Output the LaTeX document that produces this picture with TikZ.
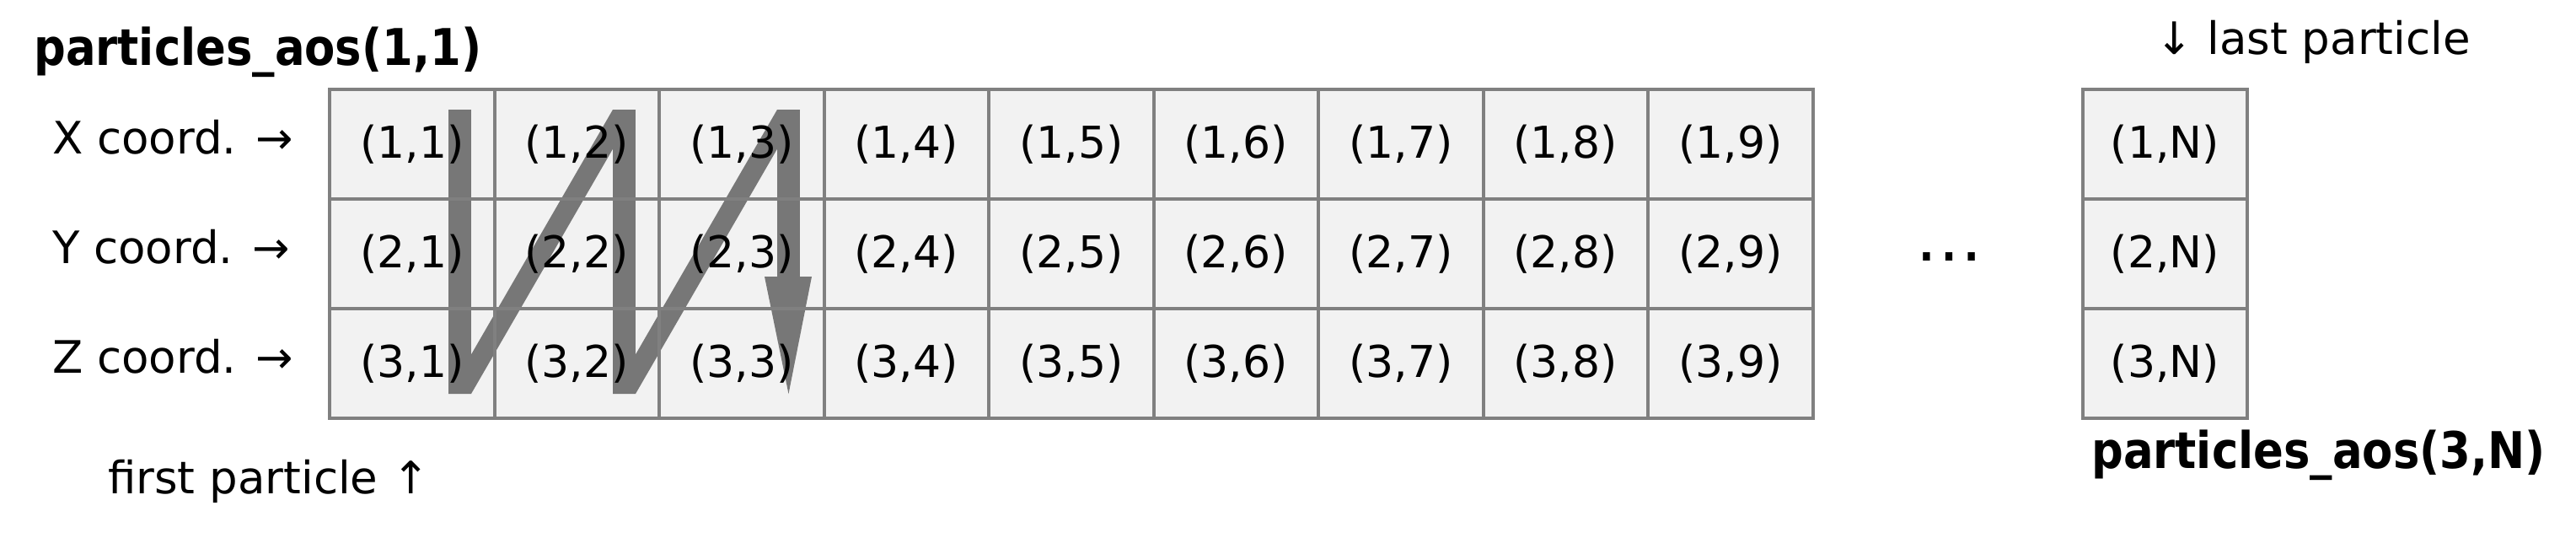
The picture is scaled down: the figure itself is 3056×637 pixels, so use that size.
\documentclass[tikz,border=0pt]{standalone}
\usepackage{fontspec}
\setmainfont{DejaVu Sans}
\newfontfamily\titlefont{DejaVu Sans}[FakeStretch=0.88]
\definecolor{cellfill}{HTML}{F2F2F2}
\definecolor{gridgray}{HTML}{808080}
\definecolor{flowgray}{HTML}{777777}
\begin{document}
\begin{tikzpicture}[x=1pt,y=-1pt,
  cell/.style={draw=gridgray, line width=4pt, minimum width=195.5pt, minimum height=130pt,
    inner sep=0pt, anchor=north west, font=\fontsize{52}{60}\selectfont},
  lbl/.style={anchor=base west, inner sep=0pt, font=\fontsize{53}{60}\selectfont},
  ttl/.style={anchor=base west, inner sep=0pt, font=\titlefont\bfseries\fontsize{60}{70}\selectfont},
  flow/.style={fill=flowgray}]
\useasboundingbox (0,0) rectangle (3056,637);
% cell backgrounds
\fill[cellfill] (389,104) rectangle (2148.5,494);
\fill[cellfill] (2468.5,104) rectangle (2663.5,494);
% storage order path
\fill[flow] (532,130) rectangle (559,467);
\fill[flow] (532,467) -- (559,467) -- (754,130) -- (727,130) -- cycle;
\fill[flow] (727,130) rectangle (754,467);
\fill[flow] (727,467) -- (754,467) -- (949,130) -- (922,130) -- cycle;
\fill[flow] (922,130) rectangle (949,328);
\fill[flow] (907,328) -- (963,328) -- (935.5,467) -- cycle;
% cells
\foreach \r in {1,2,3}{
  \foreach \c in {1,...,9}{
    \node[cell] (c\r\c) at ({389+(\c-1)*195.5},{104+(\r-1)*130}) {(\r,\c)};
  }
  \node[cell] (cN\r) at (2468.5,{104+(\r-1)*130}) {(\r,N)};
}
% labels
\node[lbl] (lx) at (62,182) {X coord. →};
\node[lbl] (ly) at (62,312) {Y coord. →};
\node[lbl] (lz) at (62,442) {Z coord. →};
\node[lbl] (first) at (128,585) {first particle ↑};
\node[lbl] (last) at (2557,64) {↓ last particle};
\node[ttl] (t1) at (40,77) {particles\_aos(1,1)};
\node[ttl] (t2) at (2481,555) {particles\_aos(3,N)};
\node[anchor=base, inner sep=0pt, font=\fontsize{80}{80}\selectfont] (dots) at (2312,309) {…};
\end{tikzpicture}
\end{document}
